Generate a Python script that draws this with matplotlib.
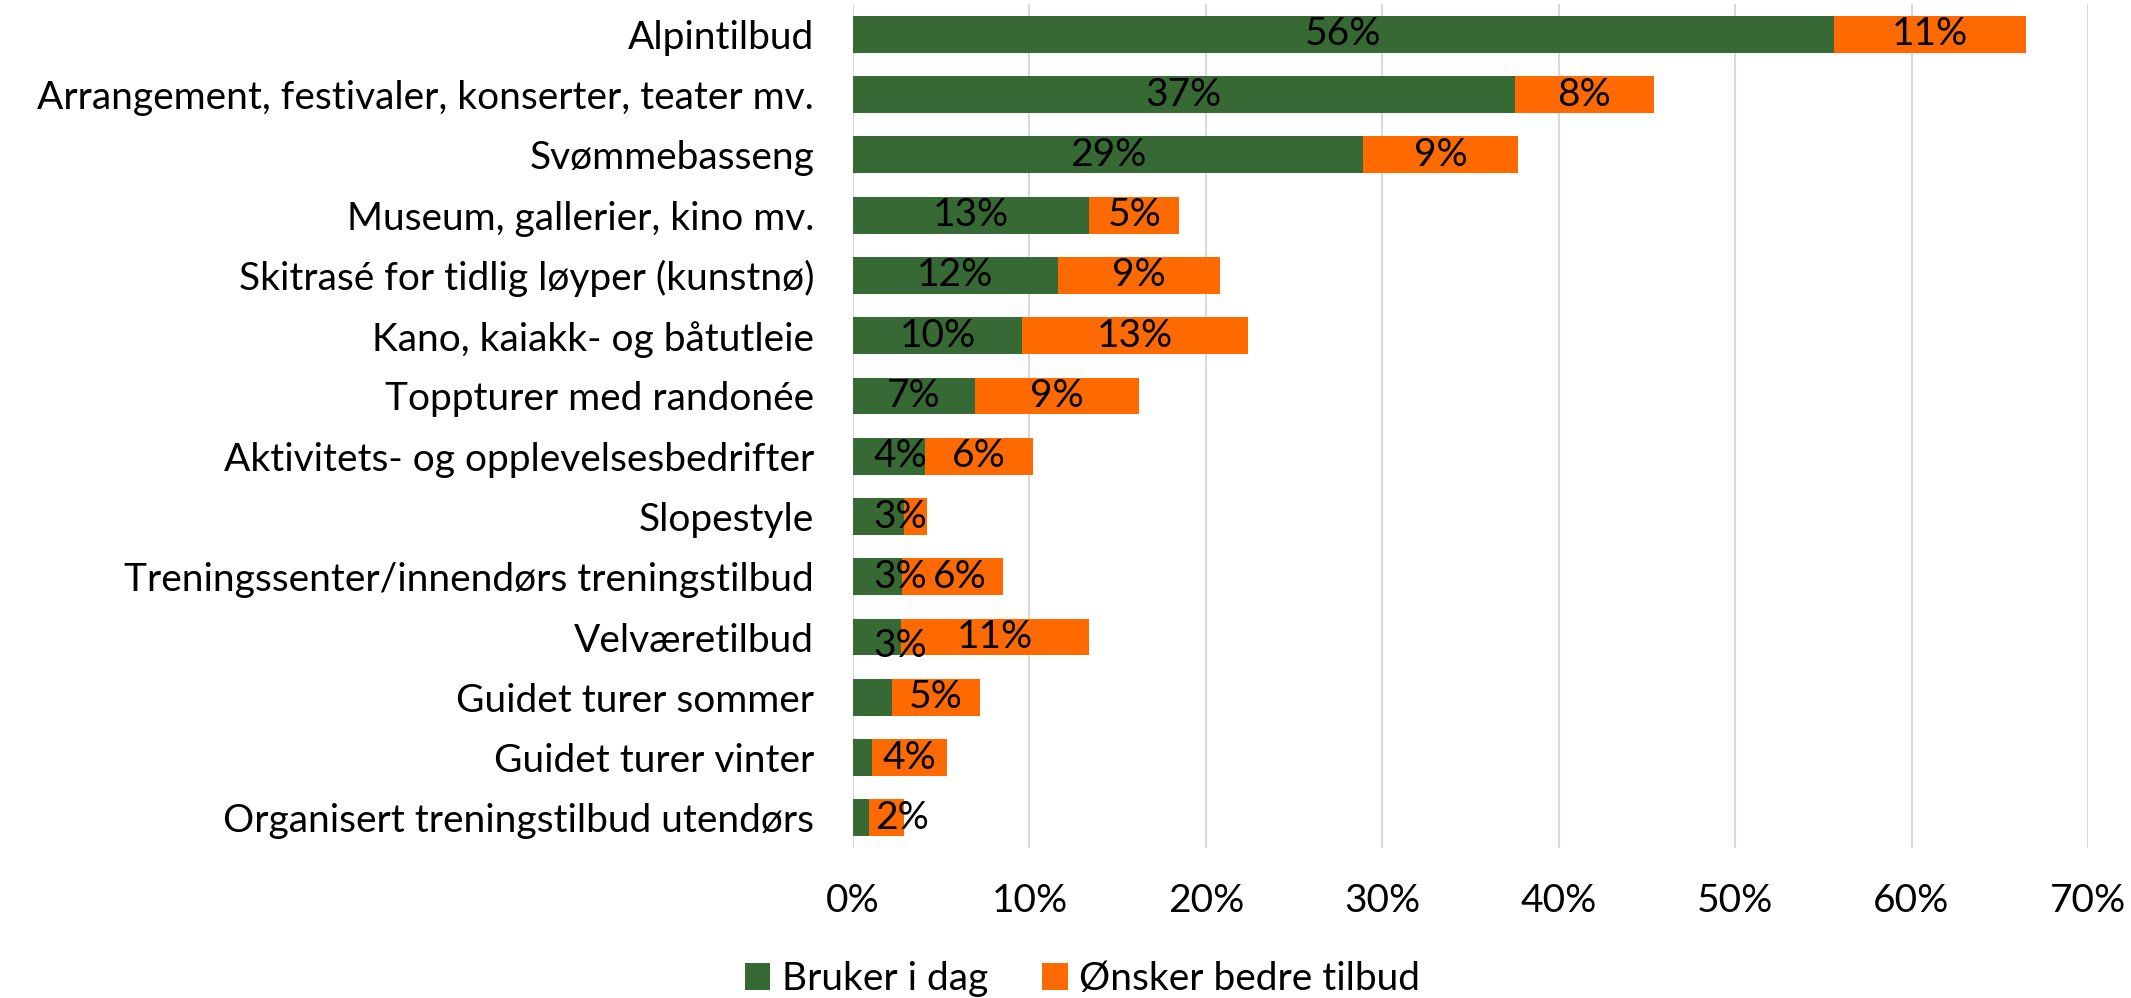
import matplotlib.pyplot as plt
import numpy as np

plt.rcParams['font.family'] = ['Lato', 'DejaVu Sans']

categories = ["Alpintilbud",
              "Arrangement, festivaler, konserter, teater mv.",
              "Svømmebasseng",
              "Museum, gallerier, kino mv.",
              "Skitrasé for tidlig løyper (kunstnø)",
              "Kano, kaiakk- og båtutleie",
              "Toppturer med randonée",
              "Aktivitets- og opplevelsesbedrifter",
              "Slopestyle",
              "Treningssenter/innendørs treningstilbud",
              "Velværetilbud",
              "Guidet turer sommer",
              "Guidet turer vinter",
              "Organisert treningstilbud utendørs"]

bruker = [55.6, 37.5, 28.9, 13.4, 11.6, 9.6, 6.9, 4.1, 2.9, 2.8, 2.7, 2.2, 1.1, 0.9]
onsker = [10.9, 7.9, 8.8, 5.1, 9.2, 12.8, 9.3, 6.1, 1.3, 5.7, 10.7, 5.0, 4.2, 2.0]

# labels as shown in the chart (some hidden)
bruker_lbl = ["56%", "37%", "29%", "13%", "12%", "10%", "7%", "4%", "3%", "3%", "3%", "", "", ""]
onsker_lbl = ["11%", "8%", "9%", "5%", "9%", "13%", "9%", "6%", "", "6%", "11%", "5%", "4%", "2%"]

green = '#376934'
orange = '#FF6A00'

fig = plt.figure(figsize=(21.31, 9.98), dpi=100)
ax = fig.add_axes([0.4003, 0.1503, 0.5795, 0.8455])

y = np.arange(len(categories))
b1 = np.array(bruker) / 100
b2 = np.array(onsker) / 100
ax.barh(y, b1, height=0.61, color=green, label='Bruker i dag', zorder=3)
ax.barh(y, b2, left=b1, height=0.61, color=orange, label='Ønsker bedre tilbud', zorder=3)

fs = 28
for i in range(len(categories)):
    if bruker_lbl[i]:
        xc = max(b1[i] / 2, 0.027)
        dy = 0.15 if categories[i] == "Velværetilbud" else 0
        ax.text(xc, y[i] + dy, bruker_lbl[i], ha='center', va='center', fontsize=fs, zorder=4)
    if onsker_lbl[i]:
        xc = max(b1[i] + b2[i] / 2, 0.028)
        if onsker_lbl[i] == "6%" and b1[i] < 0.03:
            xc += 0.004
        ax.text(xc, y[i], onsker_lbl[i], ha='center', va='center', fontsize=fs, zorder=4)

ax.set_xlim(0, 0.7)
ax.set_ylim(len(categories) - 0.5, -0.5)
ax.set_xticks(np.arange(0, 0.71, 0.1))
ax.set_xticklabels([f"{int(round(t*100))}%" for t in np.arange(0, 0.71, 0.1)])
ax.set_yticks(y)
ax.set_yticklabels(categories)
ax.tick_params(axis='both', length=0, labelsize=fs)
ax.tick_params(axis='y', pad=28)
ax.tick_params(axis='x', pad=25)
ax.grid(axis='x', color='#D9D9D9', linewidth=1.5, zorder=0)
for s in ax.spines.values():
    s.set_visible(False)

fig.legend(loc='center', bbox_to_anchor=(0.508, 0.019), ncol=2, frameon=False,
           fontsize=fs, handlelength=0.65, handleheight=0.7, columnspacing=1.4, handletextpad=0.3)

fig.savefig('out.png', dpi=100)
